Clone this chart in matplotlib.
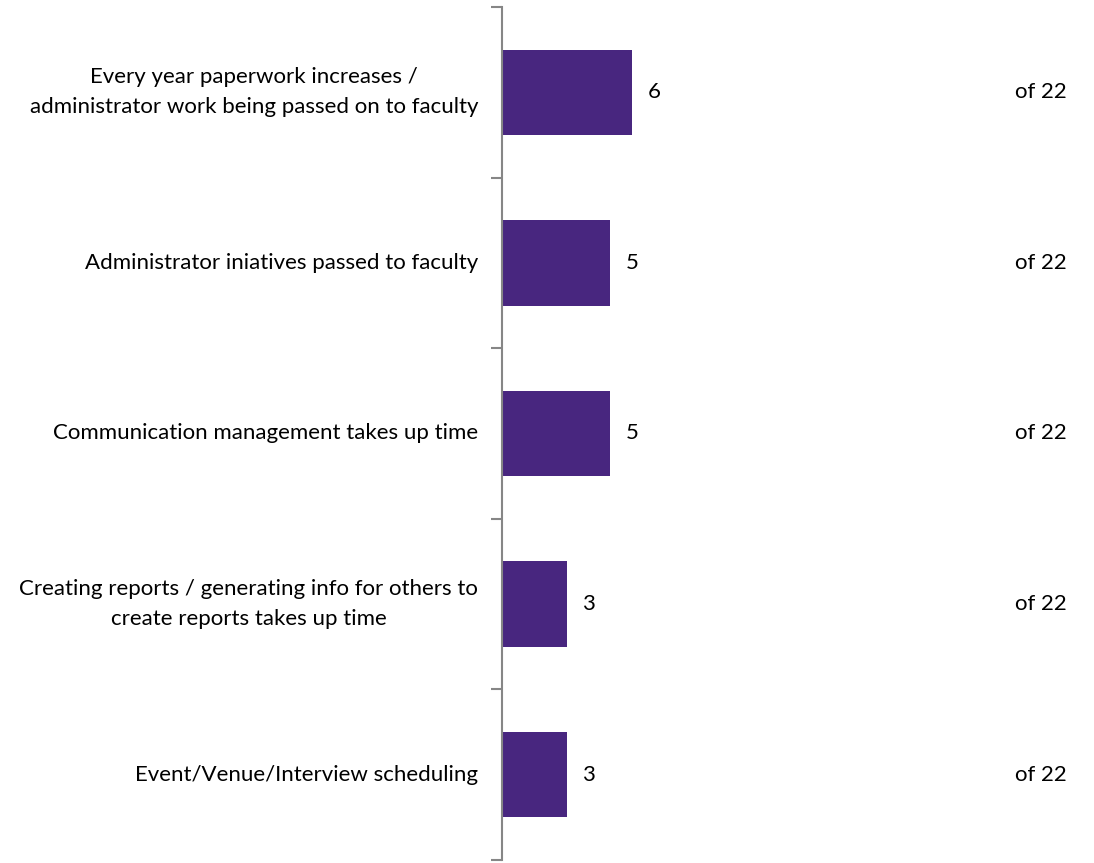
import matplotlib.pyplot as plt
from matplotlib.ticker import FixedLocator

categories = [
    "Every year paperwork increases /\nadministrator work being passed on to faculty",
    "Administrator iniatives passed to faculty",
    "Communication management takes up time",
    "Creating reports / generating info for others to\ncreate reports takes up time",
    "Event/Venue/Interview scheduling",
]
values = [6, 5, 5, 3, 3]
total = 22

plt.rcParams['font.family'] = ['Lato', 'DejaVu Sans']

fig = plt.figure(figsize=(10.94, 8.63), dpi=100)
ax = fig.add_axes([0.4589, 0.0035, 0.5411, 0.9884])

n = len(categories)
pos = list(range(n))
ax.barh(pos, values, height=0.5, color='#48267f')
ax.set_ylim(n - 0.5, -0.5)
ax.set_xlim(0, 27.3)

for p, v in zip(pos, values):
    ax.text(v + 0.7, p, str(v), va='center', ha='left', fontsize=16)
    ax.text(24.85, p, f"of {total}", va='center', ha='center', fontsize=16)

for p, c in zip(pos, categories):
    ax.text(-1.1, p, c, va='center', ha='right', multialignment='center',
            fontsize=16, linespacing=1.65)

ax.yaxis.set_major_locator(FixedLocator([i - 0.5 for i in range(n + 1)]))
ax.set_yticklabels([])
ax.tick_params(axis='y', length=8, width=1.5, color='#868686', direction='out')
ax.set_xticks([])
for s in ['top', 'right', 'bottom']:
    ax.spines[s].set_visible(False)
ax.spines['left'].set_color('#868686')
ax.spines['left'].set_linewidth(1.5)

fig.savefig('out.png', dpi=100)
